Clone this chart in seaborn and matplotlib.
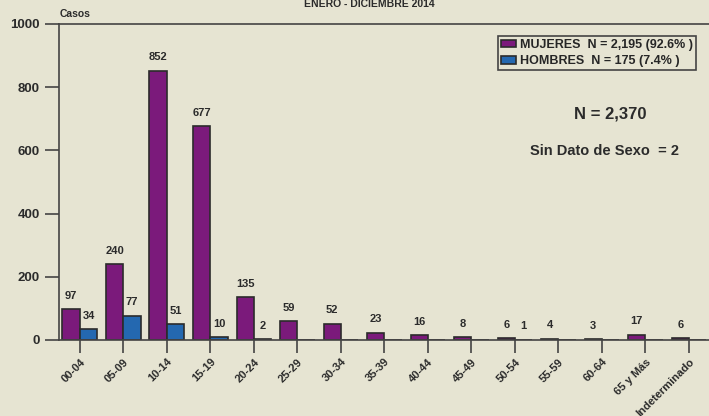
import numpy as np
import pandas as pd
import matplotlib
matplotlib.use("Agg")
import matplotlib.pyplot as plt
import seaborn as sns

grupos = ["00-04", "05-09", "10-14", "15-19", "20-24", "25-29", "30-34", "35-39",
          "40-44", "45-49", "50-54", "55-59", "60-64", "65 y Más", "Indeterminado"]
mujeres = [97, 240, 852, 677, 135, 59, 52, 23, 16, 8, 6, 4, 3, 17, 6]
hombres = [34, 77, 51, 10, 2, 0, 0, 0, 0, 0, 1, 0, 0, 0, 0]
series = ["MUJERES  N = 2,195 (92.6% )", "HOMBRES  N = 175 (7.4% )"]
colores = ["#7B1A7B", "#2468B0"]

bg = "#E6E4D2"
dark = "#2B2B2B"

sns.set_style("white")
plt.rcParams["font.family"] = ["Liberation Sans", "DejaVu Sans"]
plt.rcParams["font.weight"] = "bold"

df = pd.DataFrame({
    "grupo": grupos * 2,
    "casos": mujeres + hombres,
    "sexo": [series[0]] * len(grupos) + [series[1]] * len(grupos),
})

fig = plt.figure(figsize=(7.09, 4.16), dpi=100, facecolor=bg)
ax = fig.add_axes([59 / 709, 76 / 416, 650 / 709, 316 / 416])
ax.set_facecolor(bg)

sns.barplot(data=df, x="grupo", y="casos", hue="sexo", palette=colores,
            width=0.8, edgecolor=dark, linewidth=1.2, ax=ax, saturation=1)

# etiquetas de valor solo para barras no nulas
for cont, vals in zip(ax.containers, [mujeres, hombres]):
    ax.bar_label(cont, labels=[str(v) if v > 0 else "" for v in vals],
                 padding=6, fontsize=8, fontweight="bold", color=dark)

ax.set_xlim(-0.48, 14.46)
ax.set_ylim(0, 1000)
ax.set_yticks([0, 200, 400, 600, 800, 1000])
ax.set_xlabel("")
ax.set_ylabel("")
ax.tick_params(axis="y", direction="out", length=10, width=1.2, color="#444444",
               labelsize=9.5, pad=4, left=True)
ax.tick_params(axis="x", direction="out", length=9, width=1.2, color="#444444",
               labelsize=8, pad=3, bottom=True)
for lbl in ax.get_yticklabels():
    lbl.set_fontweight("bold")
    lbl.set_color(dark)
ax.set_xticks(range(len(grupos)))
ax.set_xticklabels(grupos, rotation=45, ha="right", rotation_mode="anchor",
                   fontweight="bold", color=dark)

for s in ["left", "bottom", "top"]:
    ax.spines[s].set_color("#444444")
    ax.spines[s].set_linewidth(1.2)
ax.spines["right"].set_visible(False)

leg = ax.legend(loc="upper right", bbox_to_anchor=(0.98, 0.963), frameon=True,
                fancybox=False, edgecolor="#444444", facecolor=bg, framealpha=1,
                prop={"weight": "bold", "size": 9}, handlelength=1.2,
                handleheight=0.55, handletextpad=0.3, borderpad=0.25,
                labelspacing=0.35, borderaxespad=0)
leg.get_frame().set_linewidth(1.2)

fig.text(369 / 709, 1 - 4 / 416, "ENERO - DICIEMBRE 2014", ha="center", va="center",
         fontsize=7.5, fontweight="bold", color=dark)
fig.text(60 / 709, 1 - 14 / 416, "Casos", ha="left", va="center",
         fontsize=7.5, fontweight="bold", color=dark)
fig.text(610 / 709, 1 - 114 / 416, "N = 2,370", ha="center", va="center",
         fontsize=12, fontweight="bold", color=dark)
fig.text(604 / 709, 1 - 151 / 416, "Sin Dato de Sexo  = 2", ha="center", va="center",
         fontsize=10.5, fontweight="bold", color=dark)

fig.savefig("out.png", dpi=100, facecolor=bg)
